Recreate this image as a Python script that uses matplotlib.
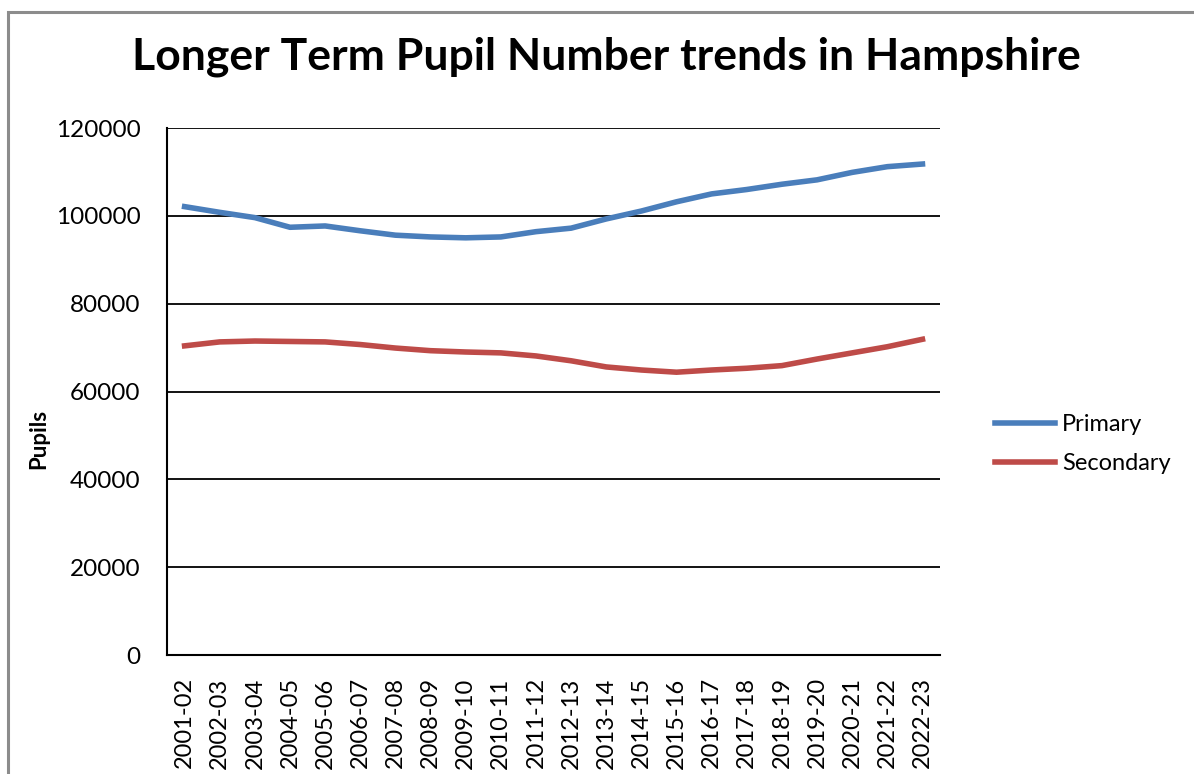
import matplotlib
matplotlib.use("Agg")
import matplotlib.pyplot as plt
from matplotlib.patches import Rectangle

# Data
years = ['2001-02', '2002-03', '2003-04', '2004-05', '2005-06', '2006-07',
         '2007-08', '2008-09', '2009-10', '2010-11', '2011-12', '2012-13',
         '2013-14', '2014-15', '2015-16', '2016-17', '2017-18', '2018-19',
         '2019-20', '2020-21', '2021-22', '2022-23']
primary = [102100, 100800, 99600, 97400, 97700, 96600, 95600, 95200, 95000,
           95200, 96400, 97200, 99300, 101100, 103200, 105000, 106000, 107200,
           108200, 109900, 111200, 111800]
secondary = [70400, 71300, 71500, 71400, 71300, 70700, 69900, 69300, 69000,
             68800, 68100, 67000, 65600, 64900, 64400, 64900, 65300, 65900,
             67400, 68800, 70200, 71900]
y_ticks = [0, 20000, 40000, 60000, 80000, 100000, 120000]

plt.rcParams['font.family'] = ['Lato', 'DejaVu Sans']

fig = plt.figure(figsize=(11.94, 7.74), dpi=100)
ax = fig.add_axes([0.1399, 0.1537, 0.6474, 0.6809])

# outer chart frame (grey), like the Excel chart border
fig.patches.append(Rectangle((8 / 1194, -0.1), 1.2, 1 - 12 / 774 + 0.1,
                             transform=fig.transFigure, fill=False,
                             edgecolor='#8c8c8c', linewidth=2.2))

x = range(len(years))
ax.plot(x, primary, color='#4a7ebb', linewidth=4, label='Primary')
ax.plot(x, secondary, color='#be4b48', linewidth=4, label='Secondary')

ax.set_xlim(-0.5, len(years) - 0.5)
ax.set_ylim(0, 120000)
ax.set_yticks(y_ticks)
ax.set_yticklabels([str(v) for v in y_ticks], fontsize=17.5)
ax.set_xticks(list(x))
ax.set_xticklabels(years, rotation=90, fontsize=17)
ax.tick_params(axis='y', length=0, pad=19)
ax.tick_params(axis='x', length=0, pad=16)
ax.yaxis.grid(True, color='black', linewidth=1.3)
ax.set_axisbelow(True)

for side in ['top', 'right']:
    ax.spines[side].set_visible(False)
for side in ['left', 'bottom']:
    ax.spines[side].set_linewidth(1.5)

ax.set_ylabel('Pupils', fontsize=16, fontweight='bold')
ax.yaxis.set_label_coords(-0.152, 0.41)

fig.text(0.508, 0.927, 'Longer Term Pupil Number trends in Hampshire',
         ha='center', va='center', fontsize=32, fontweight='bold')

ax.legend(loc='center left', bbox_to_anchor=(1.043, 0.40), frameon=False,
          fontsize=17, handlelength=2.55, labelspacing=0.75, handletextpad=0.3)

fig.savefig('out.png', dpi=100)
